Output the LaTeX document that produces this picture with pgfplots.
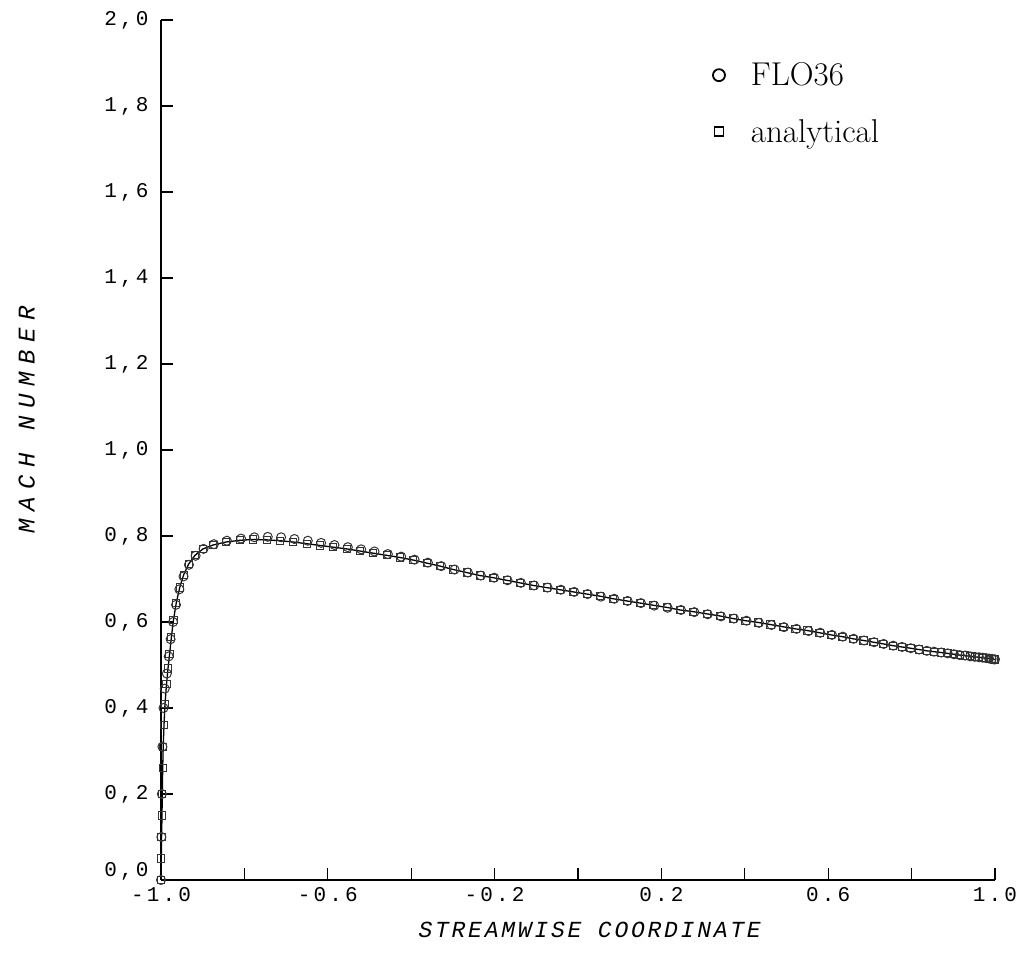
\documentclass[border=0pt]{standalone}
\usepackage{fontspec}
\usepackage{pgfplots}
\usepackage{pgfplotstable}
\pgfplotsset{compat=1.18}
\newfontfamily\plotfont{Liberation Mono}[LetterSpace=15]
\newfontfamily\plotxlabfont{Liberation Mono}[LetterSpace=12]
\newfontfamily\plotylabfont{Liberation Mono}[LetterSpace=32]
\newcommand\zerolab{0,0}

\pgfplotstableread{
x M
-1.0000 0.000
-0.9993 0.050
-0.9986 0.100
-0.9976 0.150
-0.9969 0.200
-0.9959 0.260
-0.9947 0.310
-0.9928 0.360
-0.9904 0.410
-0.9868 0.455
-0.9832 0.492
-0.9794 0.525
-0.9751 0.565
-0.9700 0.605
-0.9633 0.645
-0.9552 0.680
-0.9456 0.710
-0.9336 0.735
-0.9185 0.755
-0.8993 0.770
-0.8753 0.779
-0.8441 0.786
-0.8106 0.790
-0.7787 0.792
-0.7465 0.791
-0.7146 0.789
-0.6827 0.786
-0.6506 0.782
-0.6187 0.778
-0.5868 0.774
-0.5547 0.770
-0.5228 0.765
-0.4909 0.760
-0.4588 0.755
-0.4269 0.750
-0.3950 0.744
-0.3628 0.737
-0.3309 0.730
-0.2990 0.722
-0.2669 0.715
-0.2350 0.708
-0.2031 0.703
-0.1710 0.697
-0.1391 0.691
-0.1072 0.685
-0.0751 0.680
-0.0432 0.675
-0.0113 0.670
0.0209 0.665
0.0528 0.660
0.0847 0.654
0.1168 0.649
0.1487 0.644
0.1806 0.639
0.2127 0.634
0.2446 0.628
0.2765 0.624
0.3086 0.619
0.3405 0.614
0.3717 0.608
0.4017 0.603
0.4317 0.599
0.4616 0.594
0.4916 0.589
0.5216 0.584
0.5504 0.580
0.5791 0.575
0.6067 0.570
0.6331 0.566
0.6595 0.561
0.6847 0.557
0.7086 0.553
0.7321 0.549
0.7549 0.545
0.7765 0.542
0.7974 0.539
0.8173 0.536
0.8360 0.533
0.8537 0.531
0.8705 0.529
0.8863 0.527
0.9012 0.525
0.9151 0.523
0.9281 0.522
0.9400 0.520
0.9511 0.519
0.9612 0.518
0.9703 0.517
0.9784 0.516
0.9856 0.515
0.9918 0.514
0.9971 0.513
1.0000 0.513
}\anadata

\pgfplotstableread{
x M
-1.0000 0.000
-0.9991 0.100
-0.9980 0.200
-0.9966 0.310
-0.9940 0.400
-0.9910 0.445
-0.9860 0.480
-0.9815 0.520
-0.9770 0.560
-0.9710 0.600
-0.9640 0.640
-0.9560 0.676
-0.9460 0.706
-0.9330 0.733
-0.9170 0.754
-0.8980 0.770
-0.8730 0.781
-0.8420 0.789
-0.8080 0.794
-0.7760 0.797
-0.7440 0.798
-0.7120 0.797
-0.6800 0.793
-0.6480 0.789
-0.6160 0.784
-0.5840 0.779
-0.5520 0.774
-0.5200 0.769
-0.4880 0.764
-0.4560 0.758
-0.4240 0.752
-0.3920 0.745
-0.3600 0.738
-0.3280 0.730
-0.2960 0.722
-0.2640 0.715
-0.2330 0.708
-0.2010 0.703
-0.1690 0.697
-0.1370 0.691
-0.1050 0.685
-0.0730 0.680
-0.0410 0.675
-0.0090 0.670
0.0230 0.665
0.0550 0.659
0.0870 0.654
0.1190 0.649
0.1510 0.644
0.1830 0.638
0.2150 0.633
0.2470 0.628
0.2790 0.623
0.3110 0.618
0.3430 0.613
0.3740 0.608
0.4040 0.603
0.4340 0.598
0.4640 0.593
0.4940 0.588
0.5240 0.584
0.5530 0.579
0.5810 0.575
0.6090 0.570
0.6350 0.566
0.6610 0.561
0.6860 0.557
0.7100 0.553
0.7330 0.549
0.7560 0.545
0.7770 0.542
0.7980 0.539
0.8180 0.536
0.8365 0.533
0.8540 0.531
0.8710 0.529
0.8865 0.527
0.9015 0.525
0.9155 0.523
0.9285 0.522
0.9405 0.520
0.9515 0.519
0.9615 0.518
0.9705 0.517
0.9785 0.516
0.9858 0.515
0.9920 0.514
0.9972 0.513
1.0000 0.513
}\flodata

\begin{document}
\begin{tikzpicture}
\useasboundingbox (0,0) rectangle (1028pt,963pt);
\begin{axis}[
  at={(161pt,83pt)}, anchor=south west,
  scale only axis, width=834pt, height=860pt,
  xmin=-1, xmax=1, ymin=0, ymax=2,
  axis lines*=left,
  axis line style={line width=1.2pt, black},
  tick align=inside,
  major tick length=12pt,
  tick style={line width=1.2pt, black},
  xtick={-1,-0.8,-0.6,-0.4,-0.2,0,0.2,0.4,0.6,0.8,1},
  xticklabels={-1.0,,-0.6,,-0.2,,0.2,,0.6,,1.0},
  ytick={0.2,0.4,0.6,0.8,1.0,1.2,1.4,1.6,1.8,2.0},
  yticklabels={{0,2},{0,4},{0,6},{0,8},{1,0},{1,2},{1,4},{1,6},{1,8},{2,0}},
  extra y ticks={0},
  extra y tick labels={\zerolab},
  extra y tick style={yticklabel style={yshift=9pt}},
  ticklabel style={font=\plotfont\fontsize{21}{24}\selectfont, black},
  xticklabel style={yshift=-4pt},
  yticklabel style={xshift=-9pt},
  xlabel={STREAMWISE COORDINATE},
  xlabel style={at={(axis description cs:0.514,-0.058)}, anchor=center,
    font=\plotxlabfont\itshape\fontsize{23}{26}\selectfont},
  ylabel={MACH NUMBER},
  ylabel style={at={(axis description cs:-0.161,0.535)}, anchor=center,
    font=\plotylabfont\itshape\fontsize{24}{26}\selectfont},
  legend style={draw=none, fill=none, at={(axis description cs:0.658,0.955)},
    anchor=north west, font=\fontsize{33}{38}\selectfont, row sep=28pt,
    /tikz/every odd column/.append style={column sep=24pt}},
  legend cell align=left,
  clip=false,
]
\addplot[forget plot, black, line width=1.3pt] table[x=x, y=M] {\anadata};
\addplot[only marks, mark=o, mark size=4.5pt, line width=1pt, black!80,
  legend image post style={mark size=6pt, line width=1.8pt, black}] table[x=x, y=M] {\flodata};
\addplot[only marks, mark=square, mark size=3.6pt, line width=1pt, black!80,
  legend image post style={mark size=4.5pt, line width=1.8pt, black}] table[x=x, y=M] {\anadata};
\legend{FLO36, analytical}
\end{axis}
\end{tikzpicture}
\end{document}
